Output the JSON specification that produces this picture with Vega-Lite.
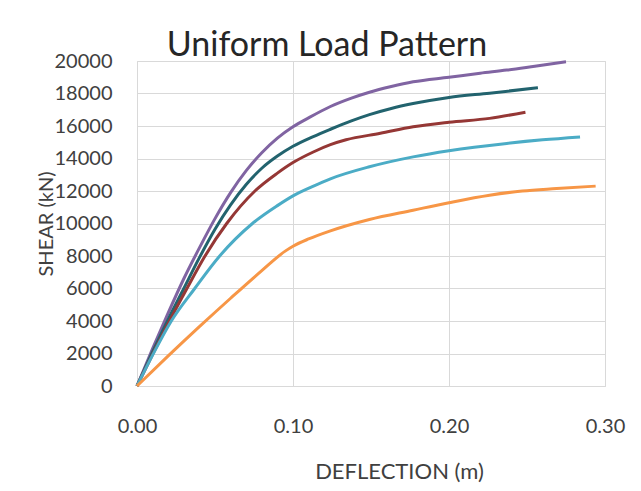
{
  "$schema": "https://vega.github.io/schema/vega-lite/v6.json",
  "width": 468,
  "height": 325,
  "autosize": {"type": "none"},
  "padding": {"left": 137, "top": 61, "right": 36, "bottom": 105},
  "background": "white",
  "title": {
    "text": "Uniform Load Pattern",
    "font": "Lato",
    "fontSize": 34,
    "fontWeight": "normal",
    "color": "#262626",
    "anchor": "middle",
    "frame": "group",
    "baseline": "alphabetic",
    "offset": 4,
    "dx": -44,
    "dy": 43
  },
  "config": {
    "view": {"stroke": "#D9D9D9", "strokeWidth": 1},
    "axis": {
      "labelFont": "Lato",
      "titleFont": "Lato",
      "labelColor": "#404040",
      "titleColor": "#404040",
      "gridColor": "#D9D9D9",
      "gridWidth": 1,
      "ticks": false,
      "domain": false,
      "titleFontWeight": "normal"
    }
  },
  "data": {
    "values": [
      {"s": "P", "d": 0, "v": 0}, {"s": "P", "d": 0.01, "v": 2300}, {"s": "P", "d": 0.02, "v": 4500}, {"s": "P", "d": 0.03, "v": 6600}, {"s": "P", "d": 0.04, "v": 8500}, {"s": "P", "d": 0.05, "v": 10300}, {"s": "P", "d": 0.06, "v": 11900}, {"s": "P", "d": 0.07, "v": 13250}, {"s": "P", "d": 0.08, "v": 14350}, {"s": "P", "d": 0.09, "v": 15250}, {"s": "P", "d": 0.1, "v": 15950}, {"s": "P", "d": 0.11, "v": 16500}, {"s": "P", "d": 0.124, "v": 17200}, {"s": "P", "d": 0.137, "v": 17700}, {"s": "P", "d": 0.149, "v": 18080}, {"s": "P", "d": 0.163, "v": 18430}, {"s": "P", "d": 0.177, "v": 18720}, {"s": "P", "d": 0.2, "v": 19000}, {"s": "P", "d": 0.22, "v": 19250}, {"s": "P", "d": 0.237, "v": 19440}, {"s": "P", "d": 0.255, "v": 19680}, {"s": "P", "d": 0.275, "v": 19950},
      {"s": "T", "d": 0, "v": 0}, {"s": "T", "d": 0.01, "v": 2100}, {"s": "T", "d": 0.02, "v": 4100}, {"s": "T", "d": 0.03, "v": 6000}, {"s": "T", "d": 0.04, "v": 7900}, {"s": "T", "d": 0.05, "v": 9650}, {"s": "T", "d": 0.06, "v": 11150}, {"s": "T", "d": 0.07, "v": 12400}, {"s": "T", "d": 0.08, "v": 13400}, {"s": "T", "d": 0.09, "v": 14150}, {"s": "T", "d": 0.1, "v": 14750}, {"s": "T", "d": 0.113, "v": 15350}, {"s": "T", "d": 0.124, "v": 15800}, {"s": "T", "d": 0.137, "v": 16300}, {"s": "T", "d": 0.149, "v": 16700}, {"s": "T", "d": 0.163, "v": 17080}, {"s": "T", "d": 0.177, "v": 17380}, {"s": "T", "d": 0.2, "v": 17760}, {"s": "T", "d": 0.226, "v": 18020}, {"s": "T", "d": 0.257, "v": 18350},
      {"s": "R", "d": 0, "v": 0}, {"s": "R", "d": 0.01, "v": 1950}, {"s": "R", "d": 0.02, "v": 3850}, {"s": "R", "d": 0.032, "v": 6000}, {"s": "R", "d": 0.0436, "v": 8000}, {"s": "R", "d": 0.0575, "v": 10000}, {"s": "R", "d": 0.0756, "v": 12000}, {"s": "R", "d": 0.09, "v": 13100}, {"s": "R", "d": 0.1, "v": 13750}, {"s": "R", "d": 0.113, "v": 14400}, {"s": "R", "d": 0.124, "v": 14850}, {"s": "R", "d": 0.134, "v": 15150}, {"s": "R", "d": 0.156, "v": 15550}, {"s": "R", "d": 0.177, "v": 15950}, {"s": "R", "d": 0.2, "v": 16230}, {"s": "R", "d": 0.226, "v": 16470}, {"s": "R", "d": 0.249, "v": 16850},
      {"s": "B", "d": 0, "v": 0}, {"s": "B", "d": 0.01, "v": 1900}, {"s": "B", "d": 0.022, "v": 4000}, {"s": "B", "d": 0.037, "v": 6000}, {"s": "B", "d": 0.053, "v": 8000}, {"s": "B", "d": 0.074, "v": 10000}, {"s": "B", "d": 0.09, "v": 11100}, {"s": "B", "d": 0.1, "v": 11700}, {"s": "B", "d": 0.112, "v": 12250}, {"s": "B", "d": 0.124, "v": 12750}, {"s": "B", "d": 0.149, "v": 13490}, {"s": "B", "d": 0.177, "v": 14100}, {"s": "B", "d": 0.2, "v": 14480}, {"s": "B", "d": 0.237, "v": 14930}, {"s": "B", "d": 0.26, "v": 15150}, {"s": "B", "d": 0.284, "v": 15330},
      {"s": "O", "d": 0, "v": 0}, {"s": "O", "d": 0.02, "v": 1850}, {"s": "O", "d": 0.04, "v": 3650}, {"s": "O", "d": 0.06, "v": 5400}, {"s": "O", "d": 0.08, "v": 7100}, {"s": "O", "d": 0.095, "v": 8300}, {"s": "O", "d": 0.1, "v": 8600}, {"s": "O", "d": 0.11, "v": 9050}, {"s": "O", "d": 0.124, "v": 9550}, {"s": "O", "d": 0.149, "v": 10250}, {"s": "O", "d": 0.177, "v": 10820}, {"s": "O", "d": 0.2, "v": 11280}, {"s": "O", "d": 0.226, "v": 11740}, {"s": "O", "d": 0.247, "v": 12000}, {"s": "O", "d": 0.269, "v": 12150}, {"s": "O", "d": 0.294, "v": 12300}
    ]
  },
  "mark": {"type": "line", "strokeWidth": 3, "interpolate": "monotone"},
  "encoding": {
    "x": {
      "field": "d",
      "type": "quantitative",
      "scale": {"domain": [0, 0.3], "nice": false, "zero": true},
      "axis": {
        "values": [0, 0.1, 0.2, 0.3],
        "format": ".2f",
        "labelFontSize": 20,
        "labelPadding": 30,
        "labelBaseline": "top",
        "labelFlush": false,
        "labelOverlap": false,
        "title": "DEFLECTION (m)",
        "titleFontSize": 22,
        "titleX": 262,
        "titleY": 85,
        "titleBaseline": "middle",
        "titleAnchor": "middle"
      }
    },
    "y": {
      "field": "v",
      "type": "quantitative",
      "scale": {"domain": [0, 20000], "nice": false},
      "axis": {
        "values": [0, 2000, 4000, 6000, 8000, 10000, 12000, 14000, 16000, 18000, 20000],
        "format": "d",
        "labelFontSize": 20,
        "labelPadding": 25,
        "labelFlush": false,
        "labelOverlap": false,
        "title": "SHEAR (kN)",
        "titleFontSize": 20,
        "titleX": -91,
        "titleY": 162.5,
        "titleAngle": -90,
        "titleBaseline": "middle",
        "titleAlign": "center"
      }
    },
    "color": {
      "field": "s",
      "type": "nominal",
      "scale": {"domain": ["P", "T", "R", "B", "O"], "range": ["#8064A2", "#22636E", "#953735", "#4BACC6", "#F79646"]},
      "legend": null
    }
  }
}
